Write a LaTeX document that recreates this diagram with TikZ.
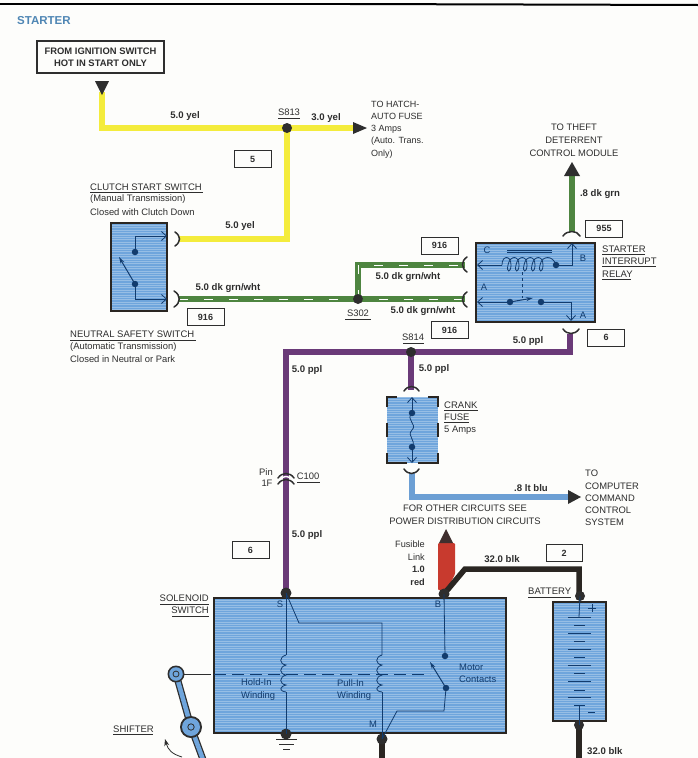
\documentclass[tikz,border=0pt]{standalone}
\usepackage{fontspec}
\setmainfont{Liberation Sans}
\usetikzlibrary{decorations.pathmorphing,arrows.meta}
\definecolor{paper}{HTML}{FDFDFB}
\definecolor{ink}{HTML}{2E2E2E}
\definecolor{boxblue}{HTML}{6FA5DC}
\definecolor{lineblue}{HTML}{123C6E}
\definecolor{wyel}{HTML}{F4EC3C}
\definecolor{wgrn}{HTML}{4E8540}
\definecolor{wppl}{HTML}{6A3A78}
\definecolor{wblu}{HTML}{6C9FD4}
\definecolor{wred}{HTML}{C83A2E}
\definecolor{wblk}{HTML}{2A2622}
\definecolor{title}{HTML}{4F86B4}
\tikzset{
  x=1pt,y=-1pt,
  txt/.style={inner sep=0pt,font=\fontsize{9.4}{11}\selectfont,text=ink},
  capt/.style={inner sep=0pt,font=\fontsize{9.5}{11}\selectfont,text=ink},
  btxt/.style={inner sep=0pt,font=\fontsize{9.6}{11}\selectfont\bfseries,text=ink},
  lft/.style={anchor=west},
  rgt/.style={anchor=east},
  tag/.style={draw=ink,line width=1pt,fill=paper,minimum width=37pt,minimum height=17pt,inner sep=0pt,font=\fontsize{9}{10}\selectfont\bfseries,text=ink},
  wire/.style={line width=5.5pt,line join=miter},
  stripe/.style={line width=.9pt,white,dash pattern=on 9pt off 16pt},
  panel/.style={draw=wblk,line width=1.3pt,fill=boxblue,
    path picture={\foreach \i in {0,2.4,...,140}{\draw[white,opacity=.28,line width=.7pt]
      (path picture bounding box.north west) ++(0,\i) -- ++(300,0);}}},
  thin/.style={draw=lineblue,line width=.8pt},
  dot/.style={circle,fill=#1,inner sep=0pt,minimum size=10pt},
  cdot/.style={circle,fill=lineblue,inner sep=0pt,minimum size=6.5pt},
  brk/.style={draw=ink,line width=1.5pt,line cap=round},
  opena/.style={-{Straight Barb[length=5pt,width=9pt,line width=.8pt]}},
  solida/.style={-{Stealth[length=7pt,width=4pt]}},
  rule/.style={draw=ink,line width=.5pt},
  tip/.style={fill=#1,draw=none},
}
\begin{document}
\begin{tikzpicture}
\useasboundingbox (0,0) rectangle (698,758);
\clip (0,0) rectangle (698,758);
\fill[paper] (0,0) rectangle (698,758);
\draw[line width=2.6pt,black] (0,4) -- (350,4);
\draw[line width=2pt,black] (350,4) -- (698,5);

\node[anchor=west,inner sep=0pt,text=title,font=\fontsize{11.5}{13}\selectfont\bfseries] (ttl) at (17,21) {STARTER};

% coordinates
\coordinate (src) at (102,92);
\coordinate (srcc) at (102,128);
\coordinate (hatch) at (354,128);
\coordinate (ye) at (179,239);
\coordinate (ge) at (179,299);
\coordinate (grn1) at (465,299);
\coordinate (grn2) at (465,265);
\coordinate (grnc) at (358,265);
\coordinate (p1) at (570,334);
\coordinate (p2) at (570,352);
\coordinate (p3) at (286,352);
\coordinate (pend) at (286,590);
\coordinate (fuseout) at (412,473);
\coordinate (bluc) at (412,497);
\coordinate (bluend) at (569,497);
\coordinate (thf) at (572,174);
\coordinate (thb) at (572,232);
\coordinate (s813c) at (287,128);
\coordinate (s302c) at (358,299);
\coordinate (s814c) at (411,352);

% wires
\draw[wire,wyel] (src) -- (srcc) -- (hatch);
\draw[wire,wyel] (s813c) -- (287,239) -- (ye);
\draw[wire,wgrn] (ge) -- (grn1);
\draw[wire,wgrn] (s302c) -- (grnc) -- (grn2);
\draw[stripe] (ge) -- (grn1);
\draw[stripe] (s302c) -- (grnc) -- (grn2);
\draw[wire,wppl] (p1) -- (p2) -- (p3) -- (pend);
\draw[wire,wppl] (s814c) -- (411,390);
\draw[wire,wblu] (fuseout) -- (bluc) -- (bluend);
\draw[wire,wgrn] (thf) -- (thb);
\node[dot=ink] (s813) at (s813c) {};
\node[dot=ink] (s302) at (s302c) {};
\node[dot=ink] (s814) at (s814c) {};
\fill[wred,rounded corners=1pt] (438,543) -- (455,543) -- (455,574) -- (447,590) -- (438,590) -- cycle;
\fill[tip=ink!88!wred] (446,529) -- (453,543) -- (439,543) -- cycle;
\draw[wire,wblk] (444,594) -- (465,569) -- (579,569) -- (579,597);
\draw[wire,wblk] (579,725) -- (579,760);
\draw[wire,wblk] (382,739) -- (382,760);

% tips
\fill[tip=ink] (95,81) -- (109,81) -- (102,95) -- cycle;
\fill[tip=ink] (353,122) -- (367,128) -- (353,134) -- cycle;
\fill[tip=ink] (572,162) -- (580,176) -- (564,176) -- cycle;
\fill[tip=ink] (568,490) -- (581,497) -- (568,504) -- cycle;

% source box
\node[draw=ink,line width=1.2pt,fill=paper,minimum width=127pt,minimum height=32pt,inner sep=0pt,align=center,font=\fontsize{9.4}{12.4}\selectfont\bfseries,text=ink] (ign) at (100.5,57) {FROM IGNITION SWITCH\\HOT IN START ONLY};

% labels on wires
\node[btxt] (l1) at (185,116) {5.0 yel};
\node[btxt] (l2) at (326,118) {3.0 yel};
\node[btxt] (l3) at (240,226) {5.0 yel};
\node[btxt] (l4) at (228,288) {5.0 dk grn/wht};
\node[btxt] (l5) at (408,277) {5.0 dk grn/wht};
\node[btxt] (l6) at (423,311) {5.0 dk grn/wht};
\node[btxt] (l7) at (528,341) {5.0 ppl};
\node[btxt] (l8) at (434,369) {5.0 ppl};
\node[btxt] (l9) at (307,370) {5.0 ppl};
\node[btxt] (l10) at (307,535) {5.0 ppl};
\node[btxt] (l11) at (600,194) {.8 dk grn};
\node[btxt] (l12) at (531,488) {.8 lt blu};
\node[btxt] (l13) at (502,559) {32.0 blk};
\node[btxt,lft] (l14) at (587,751) {32.0 blk};

% tags
\node[tag] (t5) at (252.5,159) {5};
\node[tag] (t916a) at (205.5,317) {916};
\node[tag] (t916b) at (439.5,245.5) {916};
\node[tag] (t916c) at (449.5,330) {916};
\node[tag] (t955) at (604,228.5) {955};
\node[tag] (t6a) at (606,337.5) {6};
\node[tag] (t6b) at (250.5,550) {6};
\node[tag,minimum width=36pt] (t2) at (564,553) {2};

% splice labels
\node[txt] (sl1) at (289,112) {S813};
\draw[rule] (278,118) -- (300,118);
\node[txt] (sl2) at (358,313) {S302};
\draw[rule] (345,319) -- (371,319);
\node[txt] (sl3) at (413,337) {S814};
\draw[rule] (403,343) -- (424,343);
\node[txt] (sl4) at (308,476) {C100};
\draw[rule] (297,482) -- (320,482);
\node[txt] (pin1) at (266,472) {Pin};
\node[txt] (pin2) at (267,483) {1F};

% clutch/neutral text
\node[capt,lft] (c1) at (90,187) {CLUTCH START SWITCH};
\draw[rule] (90,192.5) -- (203,192.5);
\node[txt,lft] (c2) at (90,199) {(Manual Transmission)};
\node[txt,lft] (c3) at (90,212) {Closed with Clutch Down};
\node[capt,lft] (n1) at (70,334) {NEUTRAL SAFETY SWITCH};
\draw[rule] (70,340) -- (196,340);
\node[txt,lft] (n2) at (70,347) {(Automatic Transmission)};
\node[txt,lft] (n3) at (70,359) {Closed in Neutral or Park};

% neutral/clutch switch
\draw[panel] (111,223) rectangle (167,311);
\node[cdot] (sw1) at (135,252) {};
\node[cdot] (sw2) at (135,284) {};
\coordinate (swa) at (167,236);
\coordinate (swb) at (167,299);
\draw[thin,opena] (sw1.center) |- (swa);
\draw[thin,opena] (sw2.center) |- (swb);
\draw[thin,line width=1pt,solida] (sw2.center) -- (119,257);

% connector brackets
\draw[brk] (175,232) .. controls (181,236) and (181,242) .. (175,246);
\draw[brk] (174,291) .. controls (181,295) and (181,303) .. (174,307);
\draw[brk] (467,257) .. controls (461,261) and (461,268) .. (467,272);
\draw[brk] (467,292) .. controls (461,296) and (461,303) .. (467,307);
\draw[brk] (563,236) .. controls (567,230) and (577,230) .. (580,236);
\draw[brk] (563,329) .. controls (567,335) and (575,335) .. (579,329);
\draw[brk] (404,391) .. controls (408,385) and (415,385) .. (419,391);
\draw[brk] (404,469) .. controls (408,475) and (415,475) .. (419,469);
\draw[brk] (278,478) .. controls (282,472) and (290,472) .. (294,478);
\draw[white,line width=1.4pt] (278,481) .. controls (282,475) and (290,475) .. (294,481);
\draw[brk] (278,484) .. controls (282,478) and (290,478) .. (294,484);

% relay
\draw[panel] (476,243) rectangle (595,322);
\node[txt,text=lineblue] (rc) at (487,250) {C};
\node[txt,text=lineblue] (rb) at (583,258) {B};
\node[txt,text=lineblue] (ra1) at (484,287) {A};
\node[txt,text=lineblue] (ra2) at (583,315) {A};
\node[cdot] (rd1) at (556,265) {};
\node[cdot] (rd2) at (510,302) {};
\node[cdot] (rd3) at (541,302) {};
\coordinate (rl) at (477,265);
\coordinate (rcoil) at (502,265);
\coordinate (rt) at (572,243);
\coordinate (rl2) at (477,302);
\coordinate (rbm) at (571,321);
\draw[thin,opena] (rcoil) -- (rl);
\draw[thin] (rcoil) .. controls (502,255) and (511,255) .. (511,265)
  .. controls (511,273) and (506,273) .. (508,265)
  .. controls (510,255) and (519,255) .. (519,265)
  .. controls (519,273) and (514,273) .. (516,265)
  .. controls (518,255) and (527,255) .. (527,265)
  .. controls (527,273) and (522,273) .. (524,265)
  .. controls (526,255) and (535,255) .. (535,265)
  .. controls (535,273) and (530,273) .. (532,265)
  .. controls (534,255) and (543,255) .. (543,265)
  .. controls (543,273) and (538,273) .. (540,265)
  .. controls (542,255) and (553,255) .. (rd1.center);
\draw[thin,opena] (rd1.center) -| (rt);
\draw[thin,line width=1pt] (507,250) -- (552,250);
\draw[thin] (507,252.5) -- (552,252.5);
\draw[thin,dashed] (522,272) -- (522,298);
\draw[thin,opena] (rd2.center) -- (rl2);
\draw[thin,line width=1pt,solida] (rd2.center) -- (533,298);
\draw[thin,opena] (rd3.center) -| (rbm);

\node[capt,lft] (r1) at (602,249) {STARTER};
\draw[rule] (602,254.5) -- (645,254.5);
\node[capt,lft] (r2) at (602,261) {INTERRUPT};
\draw[rule] (602,266.5) -- (656,266.5);
\node[capt,lft] (r3) at (602,274) {RELAY};
\draw[rule] (602,279.5) -- (631,279.5);

\node[txt,align=center,font=\fontsize{9.4}{13}\selectfont] (th) at (574,140) {TO THEFT\\DETERRENT\\CONTROL MODULE};
\node[txt,lft,align=left,font=\fontsize{9}{12.2}\selectfont] (ha) at (371,129.5) {TO HATCH-\\AUTO FUSE\\3 Amps\\(Auto. Trans.\\Only)};

% fuse
\fill[boxblue] (387,397) rectangle (438,463);
\foreach \i in {0,2.4,...,66}{\draw[white,opacity=.28,line width=.7pt] (387,397+\i) -- (438,397+\i);}
\draw[wblk,line width=1.6pt] (387,407) -- (387,397) -- (397,397) (428,397) -- (438,397) -- (438,407)
  (438,423) -- (438,437) (438,453) -- (438,463) -- (418,463) (407,463) -- (387,463) -- (387,453) (387,437) -- (387,423);
\node[cdot] (fd1) at (412,413) {};
\node[cdot] (fd2) at (412,447) {};
\coordinate (ft) at (412,397);
\coordinate (fb) at (412,463);
\draw[thin,opena] (fd1.center) -- (ft);
\draw[thin,opena] (fd2.center) -- (fb);
\draw[thin] (fd1.center) .. controls (405,420) and (418,424) .. (412,430) .. controls (406,436) and (417,440) .. (fd2.center);
\node[capt,lft] (f1) at (444,405) {CRANK};
\draw[rule] (444,410.5) -- (478,410.5);
\node[capt,lft] (f2) at (444,417) {FUSE};
\draw[rule] (444,422.5) -- (469,422.5);
\node[txt,lft] (f3) at (444,430) {5 Amps};

\node[txt,lft,align=left,font=\fontsize{9.4}{12.2}\selectfont] (cc) at (585,498) {TO\\COMPUTER\\COMMAND\\CONTROL\\SYSTEM};
\node[txt,align=center,font=\fontsize{9.4}{13}\selectfont] (po) at (465,514.5) {FOR OTHER CIRCUITS SEE\\POWER DISTRIBUTION CIRCUITS};

\node[txt,anchor=east,align=right,font=\fontsize{9.2}{12.6}\selectfont] (fl1) at (425,550.5) {Fusible\\Link};
\node[btxt,anchor=east,align=right,font=\fontsize{9.2}{12.6}\selectfont\bfseries] (fl2) at (425,576) {1.0\\red};

% solenoid
\draw[panel] (214,598) rectangle (506,733);
\node[dot=ink,minimum size=11pt] (ss) at (286,593) {};
\node[dot=ink,minimum size=11pt] (sg) at (286,734) {};
\node[dot=ink,minimum size=11pt] (sm) at (382,739) {};
\node[dot=ink,minimum size=11pt] (sb) at (444,594) {};
\node[cdot] (mc1) at (445,656) {};
\node[cdot] (mc2) at (446,688) {};
\node[txt,text=lineblue] (ls) at (280,604) {S};
\node[txt,text=lineblue] (lb) at (438,604) {B};
\node[txt,text=lineblue] (lm) at (373,724) {M};
\newcommand{\wcoil}[2]{%
  \draw[thin] (#1,655) .. controls (#2,657) and (#2,664) .. (#1,665) .. controls (#2,667) and (#2,674) .. (#1,675)
    .. controls (#2,677) and (#2,684) .. (#1,685) .. controls (#2,687) and (#2,691) .. (#1,692);
}
\draw[thin] (ss.center) -- (286,655);
\wcoil{286}{279}
\draw[thin] (286,692) -- (sg.center);
\draw[thin] (ss.center) -- (299,623) -- (382,623) -- (382,655);
\wcoil{382}{375}
\draw[thin] (382,692) -- (sm.center);
\draw[thin] (sm.center) -- (397,711) -- (444,711) -- (mc2.center);
\draw[thin] (sb.center) -- (mc1.center);
\draw[thin,line width=1pt,solida] (mc2.center) -- (430,662);
\draw[thin,dash pattern=on 12pt off 6pt] (214,674) -- (430,674);
\draw[ink,line width=.8pt] (183,674) -- (211,674);
\node[txt,lft,text=lineblue,align=left,font=\fontsize{9.4}{12.5}\selectfont] (hw) at (241,689.5) {Hold-In\\Winding};
\node[txt,lft,text=lineblue,align=left,font=\fontsize{9.4}{12.5}\selectfont] (pw) at (337,690) {Pull-In\\Winding};
\node[txt,lft,text=lineblue,align=left,font=\fontsize{9.4}{12.5}\selectfont] (mw) at (459,673.5) {Motor\\Contacts};
\node[capt,rgt] (so1) at (209,598) {SOLENOID};
\draw[rule] (160,604) -- (209,604);
\node[capt,rgt] (so2) at (209,610) {SWITCH};
\draw[rule] (172,616) -- (209,616);
% ground
\draw[ink,line width=1pt] (sg.center) -- (286,739);
\draw[ink,line width=1pt] (276,739) -- (297,739);
\draw[ink,line width=1pt] (279,744) -- (294,744);
\draw[ink,line width=1pt] (283,749) -- (290,749);

% battery
\draw[panel,line width=1.1pt] (553,602) rectangle (606,721);
\node[capt,lft] (ba) at (528,591) {BATTERY};
\draw[rule] (528,597) -- (571,597);
\node[dot=ink] (bt) at (580,596) {};
\node[dot=ink] (bb) at (579,725) {};
\draw[thin] (bt.center) -- (579,617);
\draw[thin] (bb.center) -- (579,705);
\foreach \yy in {617,633,649,665,681,697} \draw[thin] (568,\yy) -- (591,\yy);
\foreach \yy in {625,641,657,673,690,705} \draw[thin] (574,\yy) -- (585,\yy);
\draw[thin] (588,608) -- (596,608) (592,604) -- (592,612);
\draw[thin] (588,712) -- (595,712);

% shifter
\draw[ink,line width=7pt,line cap=round] (176,674) -- (191,727) -- (205,765);
\draw[boxblue,line width=4.5pt,line cap=round] (176,674) -- (191,727) -- (205,765);
\fill[ink] (176,674) circle (8.5);
\fill[boxblue] (176,674) circle (6.8);
\draw[ink,line width=.8pt] (176,674) circle (3);
\fill[ink] (191,727) circle (11);
\fill[boxblue] (191,727) circle (9);
\draw[ink,line width=.8pt] (191,727) circle (3.2);
\node[capt,lft] (sh) at (113,729) {SHIFTER};
\draw[rule] (113,734.5) -- (153,734.5);
\draw[ink,line width=.8pt,-{Stealth[length=7pt,width=5pt]}] (182,757) .. controls (172,754) and (168,750) .. (165,739);
\end{tikzpicture}
\end{document}
